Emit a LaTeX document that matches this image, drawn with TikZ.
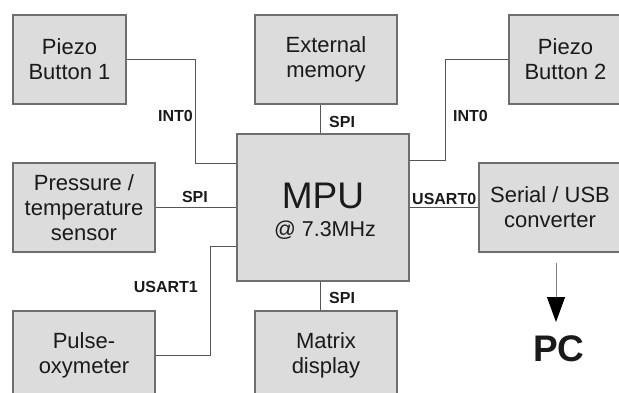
\documentclass[tikz,border=0pt]{standalone}
\usepackage{fontspec}
\setmainfont{Liberation Sans}
\usetikzlibrary{arrows.meta}
\definecolor{boxfill}{HTML}{DCDCDC}
\definecolor{boxline}{HTML}{6E6E6E}
\definecolor{wirecol}{HTML}{555555}
\definecolor{ink}{HTML}{1A1A1A}
\begin{document}
\begin{tikzpicture}[x=1pt,y=-1pt,
  block/.style={draw=boxline, line width=1.3pt, fill=boxfill, text=ink,
    align=center, inner sep=0pt, font=\fontsize{22}{25}\selectfont},
  unit/.style={block, minimum width=142pt, minimum height=89pt},
  wire/.style={draw=wirecol, line width=1pt},
  sig/.style={font=\bfseries\fontsize{16}{18}\selectfont, text=ink, inner sep=0pt}]
\useasboundingbox (0,0) rectangle (619,392);
\clip (0,0) rectangle (619,392);

% blocks
\node[block, minimum width=113pt, minimum height=89pt] (p1) at (69.5,59.5) {Piezo\\Button 1};
\node[unit] (mem) at (326,59.5) {External\\memory};
\node[block, minimum width=113pt, minimum height=89pt] (p2) at (565.5,59.5) {Piezo\\Button 2};
\node[block, minimum width=172pt, minimum height=147pt] (mpu) at (323,207.5) {};
\node[unit] (ps) at (84,207.5) {Pressure /\\temperature\\sensor};
\node[unit] (usb) at (550,207.5) {Serial / USB\\converter};
\node[unit] (po) at (84,355.5) {Pulse-\\oxymeter};
\node[unit] (mat) at (326,355.5) {Matrix\\display};

% processor text
\node[anchor=base, inner sep=0pt, text=ink, font=\fontsize{37}{40}\selectfont] (mpuname) at (323,208) {MPU};
\node[anchor=base, inner sep=0pt, text=ink, font=\fontsize{21.5}{24}\selectfont] (mpuclk) at (325,236) {@ 7.3MHz};

% routing points
\coordinate (j1) at (195,163);
\coordinate (j2) at (445,160);
\coordinate (j3) at (210,246);
\coordinate (bus) at (320,0);

% connections
\draw[wire] (p1.east) -| (j1) -- (j1 -| mpu.west);
\draw[wire] (p2.west) -| (j2) -- (j2 -| mpu.east);
\draw[wire] (bus |- mem.south) -- (bus |- mpu.north);
\draw[wire] (bus |- mpu.south) -- (bus |- mat.north);
\draw[wire] (ps.east) -- (ps.east -| mpu.west);
\draw[wire] (usb.west -| mpu.east) -- (usb.west);
\draw[wire] (po.east) -| (j3) -- (j3 -| mpu.west);

% signal labels
\node[sig, anchor=base east] (l1) at (193,121) {INT0};
\node[sig, anchor=base west] (l2) at (329,127) {SPI};
\node[sig, anchor=base west] (l3) at (453,121) {INT0};
\node[sig, anchor=base east] (l4) at (208,202) {SPI};
\node[sig, anchor=base west] (l5) at (412,204) {USART0};
\node[sig, anchor=base east] (l6) at (198,292) {USART1};
\node[sig, anchor=base west] (l7) at (329,303) {SPI};

% host link
\node[anchor=base, inner sep=0pt, text=ink, font=\bfseries\fontsize{37}{40}\selectfont] (pc) at (559,361) {PC};
\coordinate (a0) at (556,263);
\coordinate (a1) at (556,322);
\draw[draw=gray, line width=1pt, -{Triangle[length=25pt,width=18pt,color=black]}] (a0) -- (a1);
\end{tikzpicture}
\end{document}
